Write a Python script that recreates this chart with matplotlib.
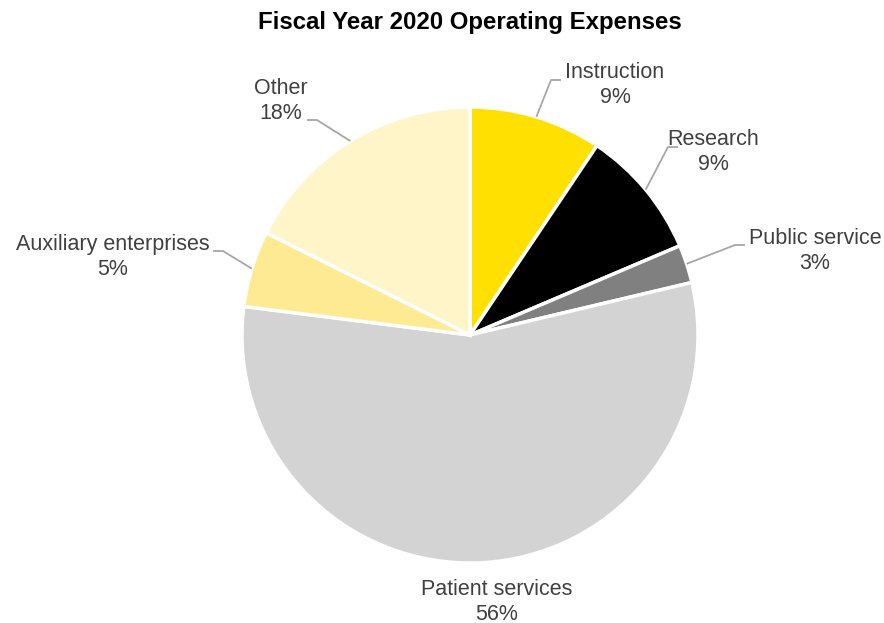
import numpy as np
import matplotlib
matplotlib.use("Agg")
import matplotlib.pyplot as plt

plt.rcParams['font.family'] = ['Liberation Sans', 'DejaVu Sans']

# data (percent of total, clockwise from 12 o'clock)
categories = ["Instruction", "Research", "Public service", "Patient services",
              "Auxiliary enterprises", "Other"]
values = [9.4, 9.2, 2.7, 55.7, 5.4, 17.6]
colors = ["#FFE000", "#000000", "#808080", "#D3D3D3", "#FFEA94", "#FFF5C8"]

# label placement in pixels (x, y from top)
label_pos = [(615, 85), (713, 152), (815, 251), (497, 602), (113, 257), (281, 101)]
# end of the horizontal part of each leader line (None = no leader)
leader_end = [(561, 80), (678, 147), (745, 245), None, (213, 251), (307, 120)]

W, H = 884, 623
cx, cy, R = 470, 288, 228

fig = plt.figure(figsize=(W / 100, H / 100), dpi=100)
ax = fig.add_axes([0, 0, 1, 1])

wedges, _ = ax.pie(values, colors=colors, startangle=90, counterclock=False,
                   center=(cx, cy), radius=R,
                   wedgeprops=dict(edgecolor='white', linewidth=2.5))
ax.set_xlim(0, W)
ax.set_ylim(0, H)
ax.set_aspect('equal')
ax.axis('off')

total = sum(values)
for w, name, v, (lx, ly), le in zip(wedges, categories, values, label_pos, leader_end):
    ax.text(lx, H - ly, f"{name}\n{v / total * 100:.0f}%", ha='center', va='center',
            fontsize=15.5, color='#404040', linespacing=1.2)
    if le is not None:
        mid = np.deg2rad((w.theta1 + w.theta2) / 2)
        ex, ey = cx + R * np.cos(mid), cy + R * np.sin(mid)
        side = 1 if le[0] > cx else -1
        hx, hy = le[0], H - le[1]
        ax.plot([ex, hx - side * 10, hx], [ey, hy, hy], color='#A6A6A6',
                lw=1.3, solid_capstyle='butt')

fig.text(cx / W, 1 - 22 / H, "Fiscal Year 2020 Operating Expenses", ha='center',
         va='center', fontsize=17.3, fontweight='bold', color='black')

fig.savefig("out.png", dpi=100)
